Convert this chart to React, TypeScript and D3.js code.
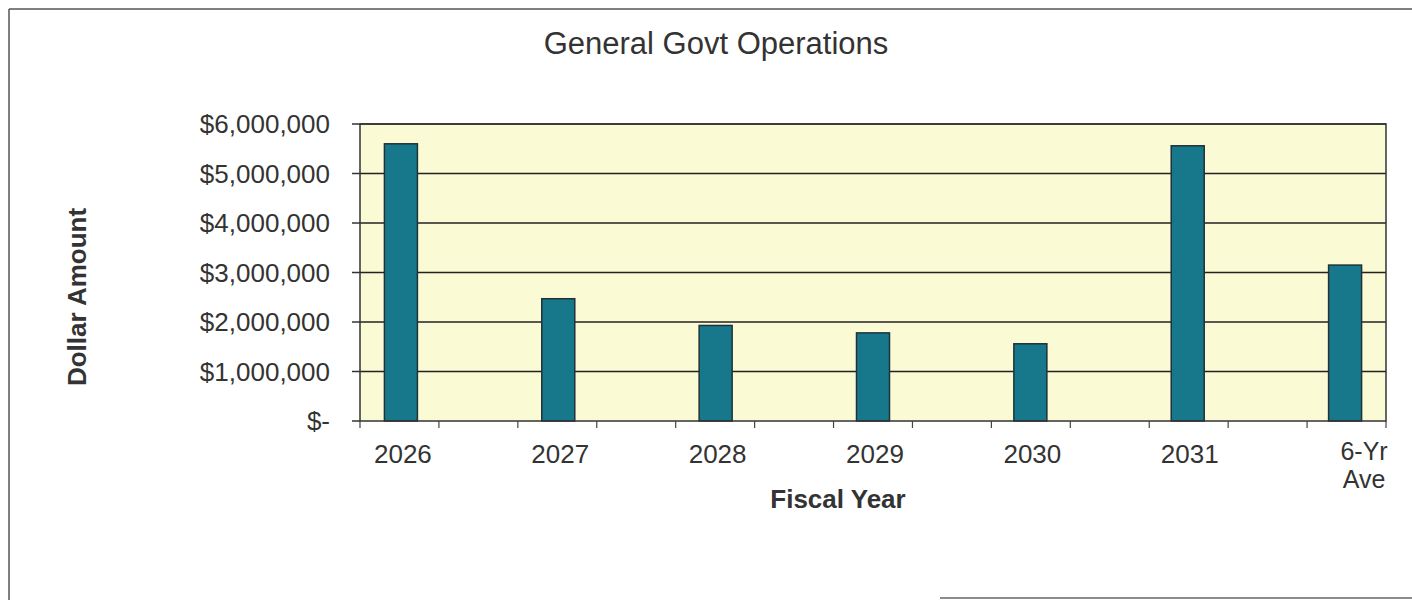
import React from "react";
import * as d3 from "d3";

const categories: string[] = ["2026", "2027", "2028", "2029", "2030", "2031", "6-Yr Ave"];
const values: number[] = [5600000, 2470000, 1930000, 1780000, 1560000, 5560000, 3150000];
const yTicks: number[] = [0, 1000000, 2000000, 3000000, 4000000, 5000000, 6000000];
const title = "General Govt Operations";
const xTitle = "Fiscal Year";
const yTitle = "Dollar Amount";

const W = 1412;
const H = 600;
const plot = { left: 360, right: 1386, top: 124, bottom: 421 };
const FONT = "'Liberation Sans', Arial, sans-serif";

export default function App() {
  const x = d3
    .scalePoint<string>()
    .domain(categories)
    .range([plot.left, plot.right])
    .padding(0.26);
  const y = d3.scaleLinear().domain([0, 6000000]).range([plot.bottom, plot.top]);
  const barW = 33;
  const fmt = (v: number) => (v === 0 ? "$-" : "$" + d3.format(",")(v));
  const minorTicks = d3.range(14).map((i) => plot.left + ((plot.right - plot.left) * i) / 13);

  return (
    <svg
      width={W}
      height={H}
      style={{ position: "absolute", left: 0, top: 0, background: "#fff" }}
      fontFamily={FONT}
    >
      {/* outer frame */}
      <line x1={9} y1={9} x2={W} y2={9} stroke="#555" strokeWidth={1.5} />
      <line x1={9} y1={9} x2={9} y2={H} stroke="#555" strokeWidth={1.5} />
      <line x1={940} y1={598} x2={W} y2={598} stroke="#666" strokeWidth={1.5} />

      <text x={716} y={54} textAnchor="middle" fontSize={31} fill="#333">
        {title}
      </text>

      {/* plot background */}
      <rect
        x={plot.left}
        y={plot.top}
        width={plot.right - plot.left}
        height={plot.bottom - plot.top}
        fill="#fafad4"
      />

      {/* gridlines */}
      {yTicks
        .filter((t) => t > 0)
        .map((t) => (
          <line
            key={"g" + t}
            x1={plot.left}
            x2={plot.right}
            y1={y(t)}
            y2={y(t)}
            stroke="#222"
            strokeWidth={1.7}
          />
        ))}

      {/* bars */}
      {categories.map((c, i) => (
        <rect
          key={c}
          x={(x(c) as number) - barW / 2}
          y={y(values[i])}
          width={barW}
          height={y(0) - y(values[i])}
          fill="#17788c"
          stroke="#1f3238"
          strokeWidth={1.5}
        />
      ))}

      {/* plot border */}
      <rect
        x={plot.left}
        y={plot.top}
        width={plot.right - plot.left}
        height={plot.bottom - plot.top}
        fill="none"
        stroke="#333"
        strokeWidth={1.5}
      />

      {/* y axis ticks and labels */}
      {yTicks.map((t) => (
        <g key={"y" + t}>
          <line x1={plot.left - 8} x2={plot.left} y1={y(t)} y2={y(t)} stroke="#333" strokeWidth={1.5} />
          <text
            x={330}
            y={y(t)}
            dy="0.35em"
            textAnchor="end"
            fontSize={26}
            fill="#333"
          >
            {fmt(t)}
          </text>
        </g>
      ))}

      {/* x axis minor ticks */}
      {minorTicks.map((t, i) => (
        <line key={"xt" + i} x1={t} x2={t} y1={plot.bottom} y2={plot.bottom + 7} stroke="#444" strokeWidth={1.2} />
      ))}

      {/* x labels */}
      {categories.map((c) => {
        const parts = c === "6-Yr Ave" ? ["6-Yr", "Ave"] : [c];
        const cx = (x(c) as number) + (parts.length > 1 ? 19 : 2);
        return (
          <g key={"xl" + c}>
            {parts.map((p, j) => (
              <text
                key={j}
                x={cx}
                y={(parts.length > 1 ? 460 : 463) + j * 28}
                textAnchor="middle"
                fontSize={parts.length > 1 ? 25 : 26}
                fill="#333"
              >
                {p}
              </text>
            ))}
          </g>
        );
      })}

      <text x={838} y={508} textAnchor="middle" fontSize={26} fontWeight="bold" fill="#333">
        {xTitle}
      </text>
      <text
        transform={`translate(86,297) rotate(-90)`}
        textAnchor="middle"
        fontSize={26}
        fontWeight="bold"
        fill="#333"
      >
        {yTitle}
      </text>
    </svg>
  );
}
